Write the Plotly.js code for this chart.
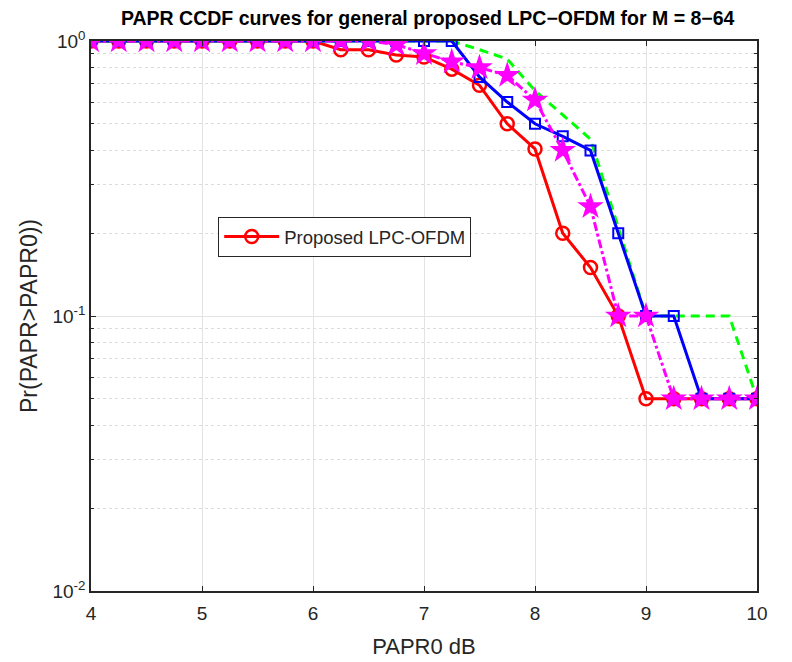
<!DOCTYPE html>
<html>
<head>
<meta charset="utf-8">
<script src="https://cdn.plot.ly/plotly-3.0.1.min.js"></script>
<style>html,body{margin:0;padding:0;background:#fff;}#chart{width:792px;height:662px;}</style>
</head>
<body>
<div id="chart"></div>
<script>
const papr0 = [4, 4.25, 4.5, 4.75, 5, 5.25, 5.5, 5.75, 6, 6.25, 6.5, 6.75, 7, 7.25, 7.5, 7.75, 8, 8.25, 8.5, 8.75, 9, 9.25, 9.5, 9.75, 10];
const redCcdf     = [1, 1, 1, 1, 1, 1, 1, 1, 1, 0.93, 0.93, 0.89, 0.875, 0.79, 0.69, 0.5, 0.405, 0.2, 0.15, 0.1, 0.05, 0.05, 0.05, 0.05, 0.05];
const greenCcdf   = [1, 1, 1, 1, 1, 1, 1, 1, 1, 1, 1, 1, 1, 1, 0.93, 0.86, 0.66, 0.54, 0.44, 0.21, 0.1, 0.1, 0.1, 0.1, 0.05];
const blueCcdf    = [1, 1, 1, 1, 1, 1, 1, 1, 1, 1, 1, 1, 1, 1, 0.74, 0.6, 0.5, 0.45, 0.4, 0.2, 0.1, 0.1, 0.05, 0.05, 0.05];
const magentaCcdf = [1, 1, 1, 1, 1, 1, 1, 1, 1, 1, 1, 0.97, 0.9, 0.84, 0.8, 0.75, 0.61, 0.4, 0.25, 0.1, 0.1, 0.05, 0.05, 0.05, 0.05];
const legendName = 'Proposed LPC-OFDM';
const yTickVals = [0.01, 0.1, 1];
const yTickText = ['10<sup>-2</sup>', '10<sup>-1</sup>', '10<sup>0</sup>'];
const xTickVals = [4, 5, 6, 7, 8, 9, 10];

const traces = [
  {x: papr0, y: redCcdf, name: legendName, mode: 'lines+markers',
   line: {color: '#ff0000', width: 3},
   marker: {symbol: 'circle-open', size: 13, color: '#ff0000', line: {width: 2.5, color: '#ff0000'}}},
  {x: papr0, y: greenCcdf, showlegend: false, mode: 'lines',
   line: {color: '#00ff00', width: 3, dash: '9px,6px'}},
  {x: papr0, y: blueCcdf, showlegend: false, mode: 'lines+markers',
   line: {color: '#0000ff', width: 3},
   marker: {symbol: 'square-open', size: 10, color: '#0000ff', line: {width: 2, color: '#0000ff'}}},
  {x: papr0, y: magentaCcdf, showlegend: false, mode: 'lines+markers',
   line: {color: '#ff00ff', width: 3, dash: 'dashdot'},
   marker: {symbol: 'star', size: 20, color: '#ff00ff', line: {width: 0}}}
];

const layout = {
  width: 792, height: 662,
  margin: {l: 91, r: 35, t: 41, b: 71},
  paper_bgcolor: '#ffffff', plot_bgcolor: '#ffffff',
  font: {family: 'Liberation Sans, Arial, sans-serif', color: '#262626'},
  title: {text: '<b>PAPR CCDF curves for general proposed LPC\u2212OFDM for M = 8\u221264</b>',
          font: {size: 19.5, color: '#000000'}, x: 0.54, xanchor: 'center', y: 0.973, yanchor: 'middle'},
  xaxis: {range: [4, 10], tickvals: xTickVals, ticks: 'inside', ticklen: 5, tickcolor: '#262626',
          showline: true, linecolor: '#262626', linewidth: 1.5, mirror: 'ticks',
          showgrid: true, gridcolor: '#e3e3e3', gridwidth: 1, zeroline: false,
          tickfont: {size: 19, color: '#262626'}, ticklabelstandoff: 4,
          title: {text: 'PAPR0 dB', font: {size: 22, color: '#262626'}, standoff: 16}},
  yaxis: {type: 'log', range: [-2, 0], tickvals: yTickVals, ticktext: yTickText,
          ticks: 'inside', ticklen: 5, tickcolor: '#262626',
          showline: true, linecolor: '#262626', linewidth: 1.5, mirror: 'ticks',
          showgrid: true, gridcolor: '#e3e3e3', gridwidth: 1, zeroline: false,
          tickfont: {size: 19, color: '#262626'},
          minor: {dtick: 'D1', ticks: 'inside', ticklen: 3, tickcolor: '#262626',
                  showgrid: true, gridcolor: '#dcdcdc', griddash: 'dot', gridwidth: 1},
          title: {text: 'Pr(PAPR>PAPR0))', font: {size: 23, color: '#262626'}, standoff: 8}},
  showlegend: true,
  legend: {x: 0.191, y: 0.68, xanchor: 'left', yanchor: 'top', itemwidth: 55,
           bgcolor: '#ffffff', bordercolor: '#262626', borderwidth: 1,
           font: {size: 18.5, color: '#262626'}}
};

Plotly.newPlot('chart', traces, layout, {displayModeBar: false});
</script>
</body>
</html>
